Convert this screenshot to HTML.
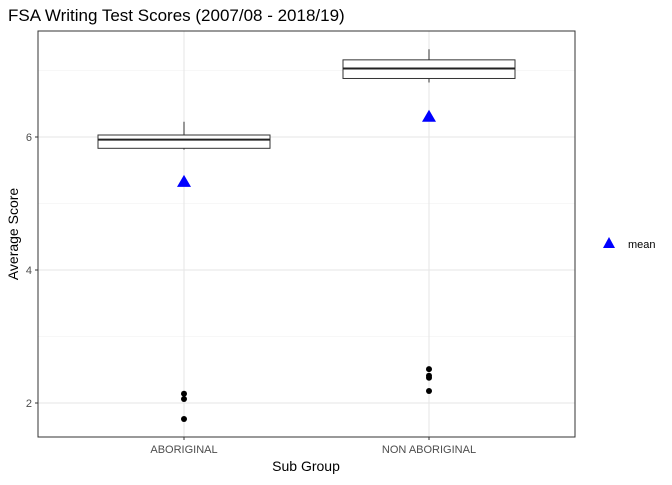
<!DOCTYPE html>
<html><head><meta charset="utf-8"><style>
body{margin:0;background:#fff;font-family:"Liberation Sans",sans-serif}
</style></head><body>
<svg width="672" height="480" xmlns="http://www.w3.org/2000/svg" font-family="Liberation Sans, sans-serif">
<text x="8" y="21" font-size="17" fill="#000">FSA Writing Test Scores (2007/08 - 2018/19)</text>
<g id="grid"></g>
<g id="marks"></g>
<rect x="38" y="31" width="537" height="406" fill="none" stroke="#333" stroke-width="1"/>
<g id="axes"></g>
<text x="306" y="471" font-size="14" text-anchor="middle">Sub Group</text>
<text transform="translate(18,234) rotate(-90)" font-size="14" text-anchor="middle">Average Score</text>
<g>
<polygon points="609,237 615,248 603,248" fill="#0000ff"/>
<text x="628" y="248" font-size="11" fill="#000">mean</text>
</g>
</svg>
<script>
const categories=["ABORIGINAL","NON ABORIGINAL"];
const whiskerHigh=[6.23,7.32];
const q3=[6.03,7.16];
const median=[5.96,7.03];
const q1=[5.83,6.88];
const whiskerLow=[5.81,6.82];
const means=[5.34,6.32];
const outliers=[[2.14,2.06,1.76],[2.51,2.41,2.38,2.18]];
const yTicks=[2,4,6];
const NS="http://www.w3.org/2000/svg";
const y=v=>403-(v-2)*66.5;
const x=i=>[184,429][i];
const halfW=86;
function mk(tag,attrs,parent){const e=document.createElementNS(NS,tag);for(const k in attrs)e.setAttribute(k,attrs[k]);parent.appendChild(e);return e;}
const grid=document.getElementById('grid'),marks=document.getElementById('marks'),axes=document.getElementById('axes');
mk('rect',{x:38,y:31,width:537,height:406,fill:'#fff'},grid);
[3,5,7].forEach(v=>{const l=mk('line',{x1:38,x2:575,y1:y(v),y2:y(v),stroke:'#f0f0f0','stroke-width':0.6},grid);

});
yTicks.forEach(v=>{const l=mk('line',{x1:38,x2:575,y1:y(v),y2:y(v),stroke:'#e6e6e6','stroke-width':1.1},grid);


const t=mk('line',{x1:35,x2:38,y1:y(v),y2:y(v),stroke:'#333'},axes);


const tx=mk('text',{x:32,y:y(v)+4,'font-size':11,fill:'#4d4d4d','text-anchor':'end'},axes);tx.textContent=v;

});
categories.forEach((c,i)=>{const cx=x(i);
const l=mk('line',{x1:cx,x2:cx,y1:31,y2:437,stroke:'#e6e6e6','stroke-width':1.1},grid);


const t=mk('line',{x1:cx,x2:cx,y1:437,y2:440,stroke:'#333'},axes);


const tx=mk('text',{x:cx,y:453,'font-size':11,fill:'#4d4d4d','text-anchor':'middle'},axes);tx.textContent=c;


const g=mk('g',{},marks);


mk('line',{x1:cx,x2:cx,y1:y(whiskerHigh[i]),y2:y(q3[i]),stroke:'#333'},g);
mk('line',{x1:cx,x2:cx,y1:y(q1[i]),y2:y(whiskerLow[i]),stroke:'#333'},g);
mk('rect',{x:cx-halfW,y:y(q3[i]),width:2*halfW,height:y(q1[i])-y(q3[i]),fill:'#fff',stroke:'#333'},g);
mk('line',{x1:cx-halfW,x2:cx+halfW,y1:y(median[i]),y2:y(median[i]),stroke:'#222','stroke-width':2},g);
outliers[i].forEach(v=>{const p=mk('circle',{cx:cx,cy:y(v),r:3,fill:'#000'},marks);

});
const my=y(means[i]);
const m=mk('polygon',{points:`${cx},${my-6} ${cx+7},${my+6} ${cx-7},${my+6}`,fill:'#0000ff'},marks);


});
</script>
</body></html>
